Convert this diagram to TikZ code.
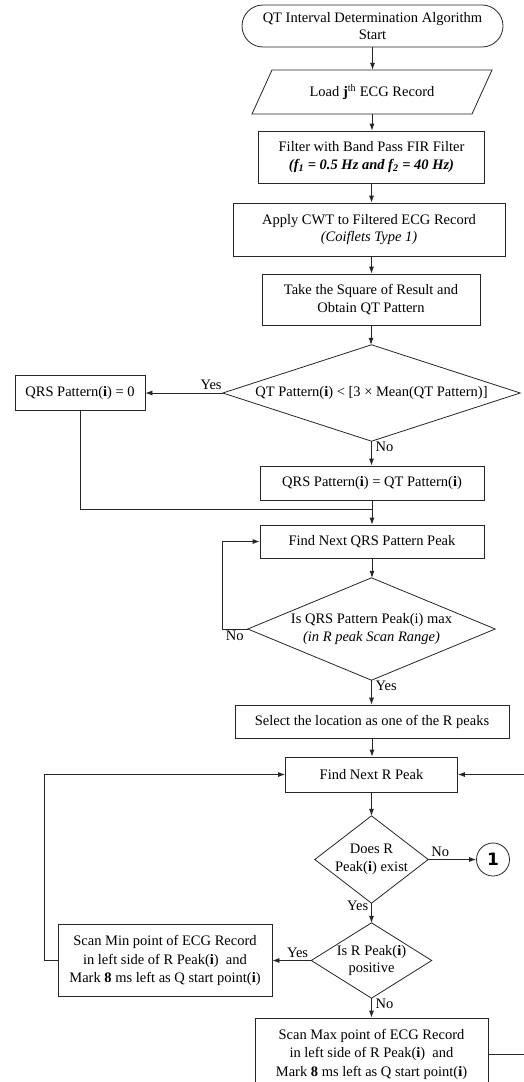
\documentclass[tikz,border=0pt]{standalone}
\usepackage{fontspec}
\setmainfont{Liberation Serif}
\newfontfamily\dejavu{DejaVu Sans}
\usetikzlibrary{arrows.meta,calc}
\begin{document}
\begin{tikzpicture}[x=1pt,y=-1pt, font=\fontsize{14.5}{17.5}\selectfont,
  line/.style={draw=black!85, line width=0.8pt},
  arr/.style={line, -{Latex[length=7pt,width=5pt]}},
  box/.style={draw=black!85, line width=0.8pt, rectangle, inner sep=0pt, align=center},
  ghost/.style={inner sep=0pt, align=center},
  lbl/.style={inner sep=1pt}]
\useasboundingbox (0,0) rectangle (524,1082);
\fill[white] (0,0) rectangle (524,1082);

% main column
\node[box, rounded corners=21pt, minimum width=261pt, minimum height=42pt] (start) at (372.5,26) {QT Interval Determination Algorithm\\Start};

\node[ghost, minimum width=240pt, minimum height=44pt] (load) at (372,92) {Load \textbf{j}\textsuperscript{th} ECG Record};
\draw[line] ($(load.center)+(-120,22)$) -- ($(load.center)+(100,22)$) -- ($(load.center)+(120,-22)$) -- ($(load.center)+(-100,-22)$) -- cycle;

\node[box, minimum width=226pt, minimum height=52pt] (filter) at (371.5,157) {Filter with Band Pass FIR Filter\\\textbf{\textit{(f\textsubscript{1} = 0.5 Hz and f\textsubscript{2} = 40 Hz)}}};

\node[box, minimum width=272pt, minimum height=53pt] (cwt) at (369,229.5) {Apply CWT to Filtered ECG Record\\\textit{(Coiflets Type 1)}};

\node[box, minimum width=218pt, minimum height=51pt] (take) at (371,299.5) {Take the Square of Result and\\Obtain QT Pattern};

\node[ghost, minimum width=297pt, minimum height=96pt] (d1) at (371.5,393) {QT Pattern(\textbf{i}) < [3 × Mean(QT Pattern)]};
\draw[line] (d1.north) -- (d1.east) -- (d1.south) -- (d1.west) -- cycle;

\node[box, minimum width=130pt, minimum height=35pt] (q0) at (80,393) {QRS Pattern(\textbf{i}) = 0};

\node[box, minimum width=224pt, minimum height=34pt] (qq) at (372,483) {QRS Pattern(\textbf{i}) = QT Pattern(\textbf{i})};

\node[box, minimum width=224pt, minimum height=33pt] (fq) at (372,541.5) {Find Next QRS Pattern Peak};
\coordinate (j1) at (372,509);

\node[ghost, minimum width=247pt, minimum height=102pt] (d2) at (371.5,629) {Is QRS Pattern Peak(i) max\\\textit{(in R peak Scan Range)}};
\draw[line] (d2.north) -- (d2.east) -- (d2.south) -- (d2.west) -- cycle;

\node[box, minimum width=274pt, minimum height=33pt] (sel) at (372,721.5) {Select the location as one of the R peaks};

\node[box, minimum width=172pt, minimum height=35pt] (fr) at (371.5,774.5) {Find Next R Peak};

\node[ghost, minimum width=113pt, minimum height=87pt] (d3) at (371.5,859.5) {Does R\\Peak(\textbf{i}) exist};
\draw[line] (d3.north) -- (d3.east) -- (d3.south) -- (d3.west) -- cycle;

\node[circle, draw=black!85, line width=0.8pt, minimum size=33pt, inner sep=0pt, font=\dejavu\bfseries\fontsize{17}{17}\selectfont] (c1) at (493,859.5) {1};

\node[ghost, minimum width=120pt, minimum height=75pt] (d4) at (371.5,960.5) {Is R Peak(\textbf{i})\\positive};
\draw[line] (d4.north) -- (d4.east) -- (d4.south) -- (d4.west) -- cycle;

\node[box, minimum width=214pt, minimum height=72pt, font=\fontsize{14.5}{18.5}\selectfont] (smin) at (165,960.5) {Scan Min point of ECG Record\\in left side of R Peak(\textbf{i})~~and\\Mark \textbf{8} ms left as Q start point(\textbf{i})};

\node[box, minimum width=233pt, minimum height=72pt, font=\fontsize{14.5}{18.5}\selectfont] (smax) at (371.5,1054) {Scan Max point of ECG Record\\in left side of R Peak(\textbf{i})~~and\\Mark \textbf{8} ms left as Q start point(\textbf{i})};

% connectors
\draw[arr] (start.south) -- (start.south |- load.north);
\draw[arr] (load.south) -- (load.south |- filter.north);
\draw[arr] (filter.south) -- (filter.south |- cwt.north);
\draw[arr] (filter.south |- cwt.south) -- (filter.south |- take.north);
\draw[arr] (take.south) -- (take.south |- d1.north);
\draw[arr] (d1.west) -- (q0.east);
\draw[arr] (d1.south) -- (d1.south |- qq.north);
\draw[arr] (qq.south) -- (fq.north);
\draw[line] (q0.south) |- (j1);
\draw[arr] (fq.south) -- (fq.south |- d2.north);
\draw[arr] (d2.west) -- ++(-25,0) |- (fq.west);
\draw[arr] (d2.south) -- (d2.south |- sel.north);
\draw[arr] (sel.south) -- (sel.south |- fr.north);
\draw[arr] (fr.south) -- (d3.north);
\draw[arr] (d3.east) -- (c1.west);
\draw[arr] (d3.south) -- (d4.north);
\draw[arr] (d4.west) -- (smin.east);
\draw[arr] (d4.south) -- (smax.north);
\draw[arr] (smin.west) -- ++(-13,0) |- (fr.west);
\draw[arr] (smax.east) -- ++(50,0) |- (fr.east);

% labels
\node[lbl, anchor=south east] at ($(d1.west)+(0,-2)$) {Yes};
\node[lbl, anchor=north west] at ($(d1.south)+(3,0)$) {No};
\node[lbl, anchor=north east] at ($(d2.west)+(-3,1)$) {No};
\node[lbl, anchor=north west] at ($(d2.south)+(3,0)$) {Yes};
\node[lbl, anchor=south west] at ($(d3.east)+(2,-2)$) {No};
\node[lbl, anchor=north east] at ($(d3.south)+(-2,-3)$) {Yes};
\node[lbl, anchor=south east] at ($(d4.west)+(-2,-2)$) {Yes};
\node[lbl, anchor=north west] at ($(d4.south)+(3,0)$) {No};
\end{tikzpicture}
\end{document}
